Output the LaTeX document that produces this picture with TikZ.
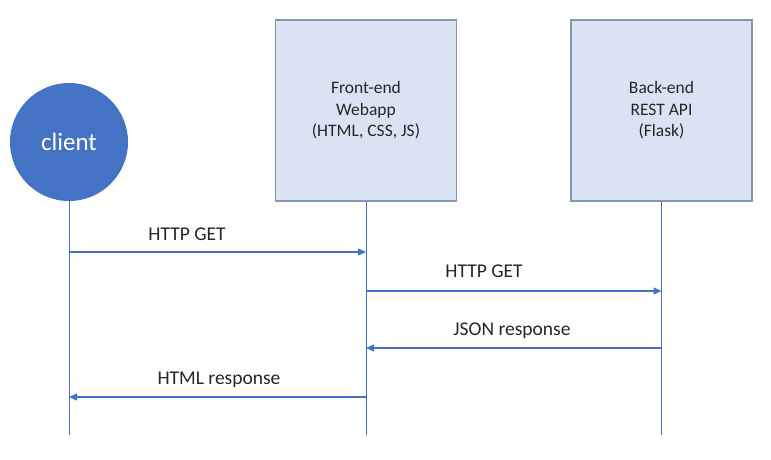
\documentclass[tikz,border=0pt]{standalone}
\usepackage{fontspec}
\setmainfont{Carlito}
\usetikzlibrary{arrows.meta}
\definecolor{lineblue}{HTML}{4472C4}
\definecolor{boxfill}{HTML}{DAE3F3}
\definecolor{boxedge}{HTML}{8497B0}
\definecolor{txt}{HTML}{262626}
\tikzset{
  actorbox/.style={draw=boxedge, line width=1.2pt, fill=boxfill, minimum width=181pt, minimum height=181pt, inner sep=0pt, align=center, text=txt, font=\fontsize{17.5}{21.5}\selectfont},
  clientnode/.style={circle, fill=lineblue, minimum size=118pt, inner sep=0pt, text=white, font=\fontsize{25}{30}\selectfont},
  lifeline/.style={draw=lineblue, line width=0.9pt},
  msg/.style={draw=lineblue, line width=1.2pt, -{Triangle[length=8pt,width=7pt]}},
  msglabel/.style={text=txt, font=\fontsize{19.5}{23}\selectfont, inner sep=0pt}
}
\begin{document}
\begin{tikzpicture}[x=1pt,y=-1pt]
\useasboundingbox (0,0) rectangle (771,459);
\node[clientnode] (client) at (69,142) {client};
\node[actorbox] (front) at (366,110.5) {Front-end\\Webapp\\(HTML, CSS, JS)};
\node[actorbox] (back) at (661.5,110.5) {Back-end\\REST API\\(Flask)};
\coordinate (cEnd) at (69,435);
\coordinate (fEnd) at (366,435);
\coordinate (bEnd) at (661.5,435);
\draw[lifeline] (client.south) -- (cEnd);
\draw[lifeline] (front.south) -- (fEnd);
\draw[lifeline] (back.south) -- (bEnd);
\coordinate (c1) at (69,252);
\coordinate (f1) at (366,252);
\coordinate (f2) at (366,291);
\coordinate (b2) at (661.5,291);
\coordinate (b3) at (661.5,348);
\coordinate (f3) at (366,348);
\coordinate (f4) at (366,397);
\coordinate (c4) at (69,397);
\draw[msg] (c1) -- (f1);
\draw[msg] (f2) -- (b2);
\draw[msg] (b3) -- (f3);
\draw[msg] (f4) -- (c4);
\node[msglabel] (l1) at (187,234) {HTTP GET};
\node[msglabel] (l2) at (484,271) {HTTP GET};
\node[msglabel] (l3) at (512,331) {JSON response};
\node[msglabel] (l4) at (219,380) {HTML response};
\end{tikzpicture}
\end{document}
